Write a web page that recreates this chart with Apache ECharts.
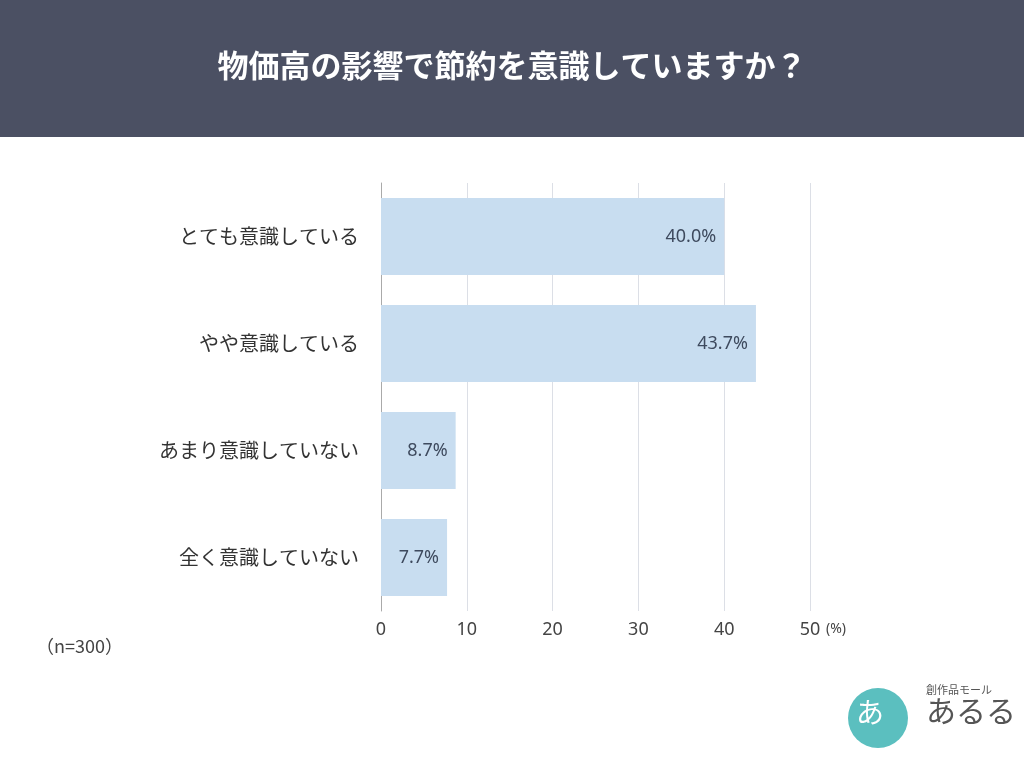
<!DOCTYPE html>
<html><head><meta charset="utf-8">
<script src="https://cdn.jsdelivr.net/npm/echarts@6/dist/echarts.min.js"></script>
<style>html,body{margin:0;padding:0;background:#fff}#c{width:1024px;height:768px}</style>
</head><body><div id="c"></div>
<script>
const titleText = '物価高の影響で節約を意識していますか？';
const categories = ['とても意識している','やや意識している','あまり意識していない','全く意識していない'];
const values = [40.0, 43.7, 8.7, 7.7];
const xTicks = [0, 10, 20, 30, 40, 50];
const sampleNote = '（n=300）';

const chart = echarts.init(document.getElementById('c'));
const font = '"Noto Sans CJK JP", "Noto Sans", sans-serif';
const numFont = '"Noto Sans", "Open Sans", sans-serif';
chart.setOption({
  backgroundColor: '#ffffff',
  animation: false,
  graphic: [
    {type:'rect', left:0, top:0, shape:{width:1024, height:137}, style:{fill:'#4b5063'}, z:0},
    {type:'text', left:'center', top:50, style:{text:titleText, fill:'#ffffff', font:'bold 31px ' + font}},
    {type:'text', left:36, top:637, style:{text:sampleNote, fill:'#444', font:'18px ' + font}},
    {type:'text', left:826, top:622, style:{text:'(%)', fill:'#444', font:'14px ' + numFont}},
    {type:'circle', shape:{cx:878, cy:718, r:30}, style:{fill:'#5bbfbf'}},
    {type:'text', left:856, top:698, style:{text:'あ', fill:'#fff', font:'28px ' + font}},
    {type:'text', left:926, top:684, style:{text:'創作品モール', fill:'#555', font:'11px ' + font}},
    {type:'text', left:926, top:696, style:{text:'あるる', fill:'#555', font:'30px ' + font}}
  ],
  grid: {left:381, right:214, top:183, bottom:157, containLabel:false},
  xAxis: {
    type:'value', min:0, max:50, interval:10,
    axisLine:{show:false}, axisTick:{show:false},
    splitLine:{show:true, lineStyle:{color:'#dcdfe6', width:1}},
    axisLabel:{color:'#444', fontSize:18, fontFamily:numFont, margin:10,
      formatter: v => xTicks.includes(v) ? String(v) : ''}
  },
  yAxis: {
    type:'category', data:categories, inverse:true,
    axisLine:{show:true, lineStyle:{color:'#aaaaaa', width:1}},
    axisTick:{show:false},
    axisLabel:{color:'#333', fontSize:20, fontFamily:font, margin:22}
  },
  series: [{
    type:'bar', data:values, barCategoryGap:'28%',
    itemStyle:{color:'#c8ddf0'},
    label:{show:true, position:'insideRight', formatter: p => p.value.toFixed(1) + '%',
      color:'#3e4a5e', fontSize:18, fontFamily:numFont, distance:8}
  }]
});
</script></body></html>
